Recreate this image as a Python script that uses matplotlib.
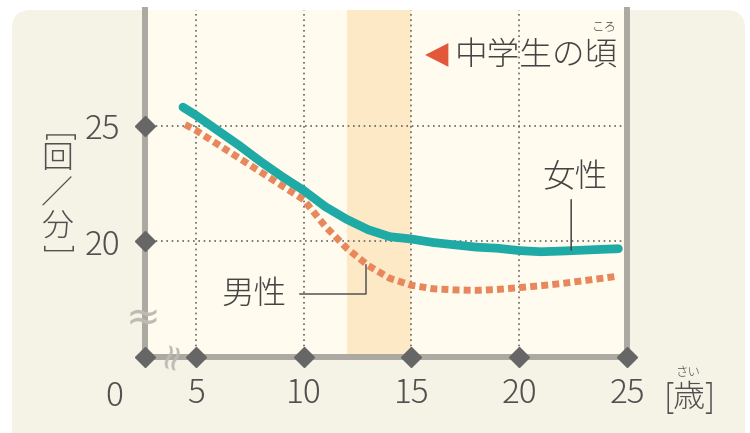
import matplotlib
matplotlib.use("Agg")
import matplotlib.pyplot as plt
from matplotlib.patches import FancyBboxPatch

plt.rcParams['font.family'] = ['Noto Sans CJK JP', 'DejaVu Sans']
plt.rcParams['font.weight'] = 'light'

# ---- data ----
age_f = [4.4, 5, 6, 7, 8, 9, 10, 11, 12, 13, 14, 15, 16, 17, 18, 19, 20, 21, 22, 23, 24, 24.6]
female = [25.8, 25.45, 24.8, 24.15, 23.45, 22.8, 22.2, 21.5, 20.95, 20.5, 20.2, 20.1, 19.95, 19.85,
          19.75, 19.7, 19.6, 19.55, 19.58, 19.62, 19.66, 19.68]
age_m = [4.5, 5, 6, 7, 8, 9, 10, 11, 12, 13, 14, 15, 16, 17, 18, 19, 20, 21, 22, 23, 24, 24.6]
male = [25.05, 24.8, 24.2, 23.6, 23.0, 22.4, 21.8, 20.65, 19.7, 18.95, 18.4, 18.1, 17.95, 17.9,
        17.88, 17.92, 18.0, 18.08, 18.18, 18.3, 18.42, 18.5]
x_ticks = [5, 10, 15, 20, 25]
x_ticklabels = ['5', '10', '15', '20', '25']
y_ticks = [20, 25]
y_ticklabels = ['20', '25']
x_break = 2.64          # axis start (shown as "0", axis is broken)
band = (12, 15)         # middle-school years

W, H = 750, 433
def fx(x): return x / W
def fy(y): return 1 - y / H

TXT = '#505050'

fig = plt.figure(figsize=(7.5, 4.33), dpi=100)
fig.patch.set_facecolor('white')
outer = FancyBboxPatch((fx(12), -0.2), fx(745) - fx(12), fy(10) + 0.2,
                       boxstyle='round,pad=0,rounding_size=0.025', mutation_aspect=W / H,
                       transform=fig.transFigure, facecolor='#f5f2e6', edgecolor='none', zorder=-10)
fig.patches.append(outer)

ax = fig.add_axes([fx(145), fy(357), fx(627) - fx(145), fy(10) - fy(357)])
ax.set_zorder(1)
ax.set_facecolor('#fffcef')
ax.set_xlim(x_break, 25)
ax.set_ylim(15, 30)

for s in ['left', 'bottom', 'right']:
    ax.spines[s].set_color('#aba9a1')
    ax.spines[s].set_linewidth(4.3)
    ax.spines[s].set_zorder(5)
ax.spines['top'].set_visible(False)

ax.axvspan(*band, color='#fde9c5', lw=0, zorder=0.5)
for x in x_ticks[:-1]:
    ax.axvline(x, color='#666666', lw=1.2, ls=(0, (1, 2.2)), zorder=1)
for y in y_ticks:
    ax.axhline(y, color='#666666', lw=1.2, ls=(0, (1, 2.2)), zorder=1)

ax.plot(age_m, male, color='#e8875c', lw=5, ls=(0, (1, 0.6)), dash_capstyle='butt', zorder=3)
ax.plot(age_f, female, color='#1faaa5', lw=6.3, solid_capstyle='round', zorder=4)

ax.set_xticks(x_ticks)
ax.set_xticklabels(x_ticklabels)
ax.set_yticks(y_ticks)
ax.set_yticklabels(y_ticklabels)
ax.tick_params(axis='x', length=0, pad=14, labelsize=24, labelcolor=TXT)
ax.tick_params(axis='y', length=0, pad=18, labelsize=24, labelcolor=TXT)

ax.plot([x_break] + x_ticks, [15] * (len(x_ticks) + 1), 'D', ms=10.5, color='#666666',
        clip_on=False, zorder=6)
ax.plot([x_break] * len(y_ticks), y_ticks, 'D', ms=10.5, color='#666666', clip_on=False, zorder=6)

# axis breaks
fig.text(fx(143), fy(318), '≈', fontsize=30, color='#bdbbb3', ha='center', va='center',
         family=['DejaVu Sans'], fontweight='normal', zorder=7)
fig.text(fx(172), fy(355), '≈', fontsize=26, color='#bdbbb3', ha='center', va='center',
         rotation=75, family=['DejaVu Sans'], fontweight='normal', zorder=7)

# "0" label
fig.text(fx(114), fy(397), '0', fontsize=24, color=TXT, ha='center', va='center')

# y label (vertical)
fig.text(fx(57), fy(138), '[', fontsize=22, color=TXT, ha='center', va='center', rotation=-90)
fig.text(fx(57), fy(159), '回', fontsize=23, color=TXT, ha='center', va='center')
fig.text(fx(57), fy(194), '／', fontsize=23, color=TXT, ha='center', va='center')
fig.text(fx(57), fy(227), '分', fontsize=23, color=TXT, ha='center', va='center')
fig.text(fx(57), fy(249), ']', fontsize=22, color=TXT, ha='center', va='center', rotation=-90)

# x unit label
fig.text(fx(690), fy(398), '[歳]', fontsize=23, color=TXT, ha='center', va='center')
fig.text(fx(688), fy(372), 'さい', fontsize=9, color=TXT, ha='center', va='center')

# annotation: middle-school period
fig.text(fx(437), fy(55), '◀', fontsize=22, color='#e3573b', ha='center', va='center',
         family=['DejaVu Sans'], fontweight='normal')
fig.text(fx(455), fy(56), '中学生の頃', fontsize=23.5, color='#444444', ha='left', va='center')
fig.text(fx(604), fy(27), 'ころ', fontsize=9, color='#444444', ha='center', va='center')

# series labels with leaders
fig.text(fx(575), fy(178), '女性', fontsize=23.5, color='#444444', ha='center', va='center')
ax.annotate('', xy=(22.41, 19.62), xytext=(22.41, 21.8),
            arrowprops=dict(arrowstyle='-', color='#444444', lw=1.1, shrinkA=0, shrinkB=0), zorder=6)
fig.text(fx(254), fy(295), '男性', fontsize=23.5, color='#444444', ha='center', va='center')
ax.plot([9.82, 12.87, 12.87], [17.72, 17.72, 18.98], color='#555555', lw=1.1, zorder=6)

fig.savefig('out.png', dpi=100, facecolor='white')
